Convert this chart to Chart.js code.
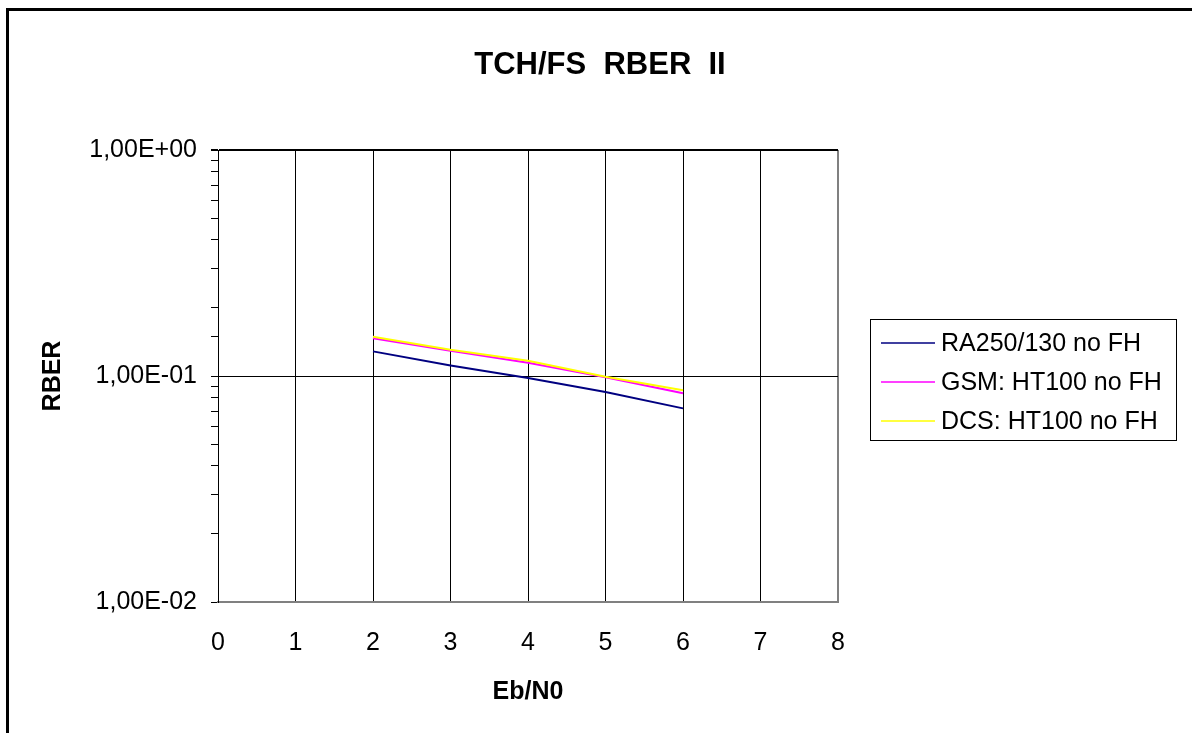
<!DOCTYPE html>
<html>
<head>
<meta charset="utf-8">
<script src="https://cdn.jsdelivr.net/npm/chart.js@4/dist/chart.umd.min.js"></script>
<style>
  html, body { margin: 0; padding: 0; background: #fff; }
  #wrap { width: 1192px; height: 733px; }
</style>
</head>
<body>
<div id="wrap"><canvas id="c" width="1192" height="733"></canvas></div>
<script>
const ebN0 = [2, 3, 4, 5, 6];
const ra250 = [0.1285, 0.1114, 0.0980, 0.0850, 0.0719];
const gsmHT100 = [0.1468, 0.1294, 0.1145, 0.0987, 0.0839];
const dcsHT100 = [0.1492, 0.1307, 0.1169, 0.0993, 0.0864];
const seriesNames = ['RA250/130 no FH', 'GSM: HT100 no FH', 'DCS: HT100 no FH'];
const seriesColors = ['#000080', '#FF00FF', '#FFFF00'];
const chartTitle = 'TCH/FS  RBER  II';

const FONT = "'Liberation Sans', Arial, sans-serif";

const toPoints = (ys) => ys.map((y, i) => ({ x: ebN0[i], y: y }));

// Excel style "1,00E-01"
const sciLabel = (v) => {
    const exp = Math.round(Math.log10(v));
    const mant = v / Math.pow(10, exp);
    const sign = exp < 0 ? '-' : '+';
    return mant.toFixed(2).replace('.', ',') + 'E' + sign + String(Math.abs(exp)).padStart(2, '0');
};
const isDecade = (v) => Math.abs(Math.log10(v) - Math.round(Math.log10(v))) < 1e-9;

const frameAndText = {
    id: 'frameAndText',
    beforeDraw(chart) {
        const ctx = chart.ctx;
        ctx.save();
        ctx.fillStyle = '#fff';
        ctx.fillRect(0, 0, chart.width, chart.height);
        ctx.strokeStyle = '#000';
        ctx.lineWidth = 3;
        ctx.strokeRect(7.5, 9.5, 1200, 760);
        ctx.restore();
    },
    afterDraw(chart) {
        const ctx = chart.ctx;
        ctx.save();
        // title
        ctx.fillStyle = '#000';
        ctx.font = 'bold 31px ' + FONT;
        ctx.textAlign = 'center';
        ctx.textBaseline = 'middle';
        ctx.fillText(chartTitle, 600, 65);

        // legend box
        const bx = 870, by = 319, bw = 306, bh = 121;
        ctx.fillStyle = '#fff';
        ctx.fillRect(bx, by, bw, bh);
        ctx.strokeStyle = '#000';
        ctx.lineWidth = 1;
        ctx.strokeRect(bx + 0.5, by + 0.5, bw, bh);
        ctx.font = '25px ' + FONT;
        ctx.textAlign = 'left';
        chart.data.datasets.forEach((ds, i) => {
            const y = by + 24 + i * 39;
            ctx.strokeStyle = ds.borderColor;
            ctx.lineWidth = 1.5;
            ctx.beginPath();
            ctx.moveTo(bx + 11, y);
            ctx.lineTo(bx + 65, y);
            ctx.stroke();
            ctx.fillStyle = '#000';
            ctx.fillText(ds.label, bx + 71, y + 1);
        });
        ctx.restore();
    }
};

new Chart(document.getElementById('c'), {
    type: 'line',
    data: {
        datasets: [
            { label: seriesNames[0], data: toPoints(ra250), borderColor: seriesColors[0], order: 3 },
            { label: seriesNames[1], data: toPoints(gsmHT100), borderColor: seriesColors[1], order: 2 },
            { label: seriesNames[2], data: toPoints(dcsHT100), borderColor: seriesColors[2], order: 1 }
        ]
    },
    options: {
        responsive: false,
        animation: false,
        parsing: true,
        elements: {
            line: { borderWidth: 2, tension: 0, fill: false },
            point: { radius: 0, hoverRadius: 0 }
        },
        layout: { padding: { left: 30, top: 150, right: 354, bottom: 11 } },
        plugins: {
            legend: { display: false },
            title: { display: false },
            tooltip: { enabled: false }
        },
        scales: {
            x: {
                type: 'linear',
                min: 0,
                max: 8,
                afterFit: (s) => { s.height = 120; },
                ticks: {
                    stepSize: 1,
                    padding: 26,
                    color: '#000',
                    font: { family: FONT, size: 25 }
                },
                grid: {
                    drawTicks: false,
                    color: (c) => c.tick && c.tick.value === 8 ? '#808080' : '#000',
                    lineWidth: (c) => c.tick && c.tick.value === 8 ? 2 : 1
                },
                border: { color: '#808080', width: 2 },
                title: {
                    display: true,
                    text: 'Eb/N0',
                    color: '#000',
                    font: { family: FONT, size: 25, weight: 'bold' },
                    padding: { top: 0, bottom: 15 }
                }
            },
            y: {
                type: 'logarithmic',
                min: 0.01,
                max: 1,
                afterFit: (s) => { s.width = 188; },
                ticks: {
                    autoSkip: false,
                    padding: 14,
                    color: '#000',
                    font: { family: FONT, size: 25 },
                    callback: (v) => isDecade(v) ? sciLabel(v) : ''
                },
                grid: {
                    tickLength: 7,
                    tickColor: '#000',
                    color: (c) => {
                        if (!c.tick || !isDecade(c.tick.value)) return 'rgba(0,0,0,0)';
                        return c.tick.value <= 0.0100001 ? '#808080' : '#000';
                    },
                    lineWidth: (c) => c.tick && isDecade(c.tick.value) && c.tick.value > 0.5 ? 2 : 1
                },
                border: { color: '#000', width: 1 },
                title: {
                    display: true,
                    text: 'RBER',
                    color: '#000',
                    font: { family: FONT, size: 25, weight: 'bold' },
                    padding: { top: 8, bottom: 0 }
                }
            }
        }
    },
    plugins: [frameAndText]
});
</script>
</body>
</html>
